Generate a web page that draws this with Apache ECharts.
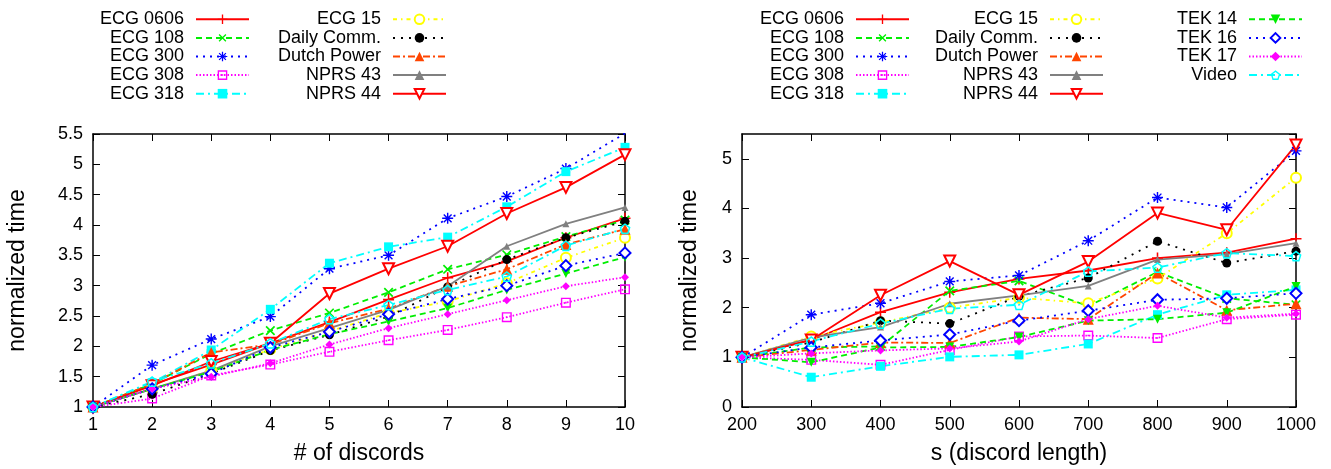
<!DOCTYPE html>
<html>
<head>
<meta charset="utf-8">
<script src="https://cdn.jsdelivr.net/npm/echarts@6/dist/echarts.min.js"></script>
<style>
html,body{margin:0;padding:0;background:#fff;}
#chart{width:1331px;height:469px;}
</style>
</head>
<body>
<div id="chart"></div>
<script>
// ---------------- DATA ----------------
const numDiscords = [1, 2, 3, 4, 5, 6, 7, 8, 9, 10];
const discordLength = [200, 300, 400, 500, 600, 700, 800, 900, 1000];

const seriesNames = ['ECG 0606', 'ECG 108', 'ECG 300', 'ECG 308', 'ECG 318',
  'ECG 15', 'Daily Comm.', 'Dutch Power', 'NPRS 43', 'NPRS 44',
  'TEK 14', 'TEK 16', 'TEK 17', 'Video'];

// left chart: normalized time vs # of discords
const leftECG0606   = [1, 1.37, 1.70, 2.05, 2.40, 2.77, 3.13, 3.40, 3.79, 4.11];
const leftECG108    = [1, 1.38, 1.88, 2.26, 2.55, 2.89, 3.27, 3.51, 3.81, 4.08];
const leftECG300    = [1, 1.69, 2.12, 2.49, 3.28, 3.50, 4.11, 4.47, 4.93, 5.51];
const leftECG308    = [1, 1.14, 1.52, 1.70, 1.91, 2.10, 2.27, 2.48, 2.72, 2.94];
const leftECG318    = [1, 1.40, 1.94, 2.61, 3.37, 3.64, 3.80, 4.30, 4.88, 5.28];
const leftECG15     = [1, 1.30, 1.60, 1.95, 2.25, 2.55, 2.74, 3.04, 3.46, 3.79];
const leftDaily     = [1, 1.21, 1.55, 1.93, 2.19, 2.49, 2.98, 3.43, 3.79, 4.06];
const leftDutch     = [1, 1.38, 1.90, 2.03, 2.38, 2.62, 2.99, 3.27, 3.68, 3.93];
const leftNPRS43    = [1, 1.30, 1.60, 2.00, 2.30, 2.60, 2.99, 3.65, 4.02, 4.29];
const leftNPRS44    = [1, 1.35, 1.75, 2.05, 2.87, 3.28, 3.65, 4.19, 4.62, 5.16];
const leftTEK14     = [1, 1.30, 1.58, 1.94, 2.20, 2.41, 2.63, 2.93, 3.20, 3.47];
const leftTEK16     = [1, 1.30, 1.55, 1.98, 2.24, 2.53, 2.78, 3.00, 3.33, 3.54];
const leftTEK17     = [1, 1.30, 1.50, 1.72, 2.03, 2.30, 2.53, 2.76, 2.99, 3.14];
const leftVideo     = [1, 1.42, 1.72, 2.05, 2.45, 2.68, 2.93, 3.15, 3.66, 3.94];

// right chart: normalized time vs discord length
const rightECG0606  = [1, 1.35, 1.91, 2.31, 2.58, 2.75, 3.00, 3.11, 3.39];
const rightECG108   = [1, 1.20, 1.22, 2.34, 2.54, 2.03, 2.72, 2.19, 2.06];
const rightECG300   = [1, 1.86, 2.09, 2.53, 2.65, 3.35, 4.22, 4.02, 5.16];
const rightECG308   = [1, 0.95, 0.85, 1.15, 1.42, 1.44, 1.39, 1.77, 1.86];
const rightECG318   = [1, 0.60, 0.82, 1.01, 1.05, 1.27, 1.86, 2.26, 2.36];
const rightECG15    = [1, 1.42, 1.70, 2.00, 2.20, 2.09, 2.59, 3.50, 4.62];
const rightDaily    = [1, 1.30, 1.74, 1.68, 2.23, 2.60, 3.34, 2.90, 3.14];
const rightDutch    = [1, 1.15, 1.30, 1.29, 1.80, 1.77, 2.70, 1.95, 2.08];
const rightNPRS43   = [1, 1.40, 1.61, 2.08, 2.25, 2.44, 2.97, 3.08, 3.30];
const rightNPRS44   = [1, 1.35, 2.25, 2.94, 2.26, 2.93, 3.91, 3.57, 5.28];
const rightTEK14    = [1, 0.90, 1.20, 1.21, 1.41, 1.74, 1.77, 1.90, 2.43];
const rightTEK16    = [1, 1.20, 1.34, 1.46, 1.74, 1.94, 2.16, 2.19, 2.29];
const rightTEK17    = [1, 1.08, 1.14, 1.18, 1.32, 1.77, 2.04, 1.80, 1.88];
const rightVideo    = [1, 1.32, 1.68, 1.98, 2.06, 2.73, 2.81, 3.10, 3.04];

const leftTicksY = [1, 5.5, 0.5];   // min, max, step
const rightTicksY = [0, 5.5, 1];

// ---------------- STYLE ----------------
const leftSets = [leftECG0606, leftECG108, leftECG300, leftECG308, leftECG318, leftECG15, leftDaily,
  leftDutch, leftNPRS43, leftNPRS44, leftTEK14, leftTEK16, leftTEK17, leftVideo];
const rightSets = [rightECG0606, rightECG108, rightECG300, rightECG308, rightECG318, rightECG15, rightDaily,
  rightDutch, rightNPRS43, rightNPRS44, rightTEK14, rightTEK16, rightTEK17, rightVideo];

const PLUS = 'path://M-5,-0.7H5V0.7H-5Z M-0.7,-5H0.7V5H-0.7Z';
const STAR = 'path://M-5,-0.65H5V0.65H-5Z M-0.65,-5H0.65V5H-0.65Z ' +
  'M-4,-3.1L-3.1,-4L4,3.1L3.1,4Z M3.1,-4L4,-3.1L-3.1,4L-4,3.1Z';
const DOTSQ = 'path://M-5,-5H5V5H-5Z M-3.6,-3.6V3.6H3.6V-3.6Z M-0.8,-0.8H0.8V0.8H-0.8Z';
const PENTA = 'path://M0,-5L4.755,-1.545L2.939,4.045L-2.939,4.045L-4.755,-1.545Z ' +
  'M0,-3.4L-3.234,-1.05L-1.998,2.75L1.998,2.75L3.234,-1.05Z';

const styles = {
  'ECG 0606':    {color: '#ff0000', dash: 'solid', symbol: PLUS, size: 11},
  'ECG 108':     {color: '#00ee00', dash: [6, 4], symbol: PLUS, size: 12, rotate: 45},
  'ECG 300':     {color: '#0000ff', dash: [2, 5], symbol: STAR, size: 11},
  'ECG 308':     {color: '#ff00ff', dash: [1.5, 2], symbol: DOTSQ, size: 10},
  'ECG 318':     {color: '#00ffff', dash: [8, 4, 2, 4], symbol: 'rect', size: 9},
  'ECG 15':      {color: '#ffff00', dash: [4, 4, 1.5, 4], symbol: 'emptyCircle', size: 10, empty: true},
  'Daily Comm.': {color: '#000000', dash: [2, 6], symbol: 'circle', size: 9},
  'Dutch Power': {color: '#ff4500', dash: [7, 3, 2, 3], symbol: 'triangle', size: 11},
  'NPRS 43':     {color: '#808080', dash: 'solid', symbol: 'triangle', size: 7},
  'NPRS 44':     {color: '#ff0000', dash: 'solid', symbol: 'emptyTriangle', size: 11, rotate: 180, empty: true},
  'TEK 14':      {color: '#00ee00', dash: [6, 4], symbol: 'triangle', size: 9, rotate: 180},
  'TEK 16':      {color: '#0000ff', dash: [2, 5], symbol: 'emptyDiamond', size: 11, empty: true},
  'TEK 17':      {color: '#ff00ff', dash: [1.5, 2], symbol: 'diamond', size: 8},
  'Video':       {color: '#00ffff', dash: [8, 4, 2, 4], symbol: PENTA, size: 11}
};

function makeSeries(name, xs, ys, xi, yi) {
  const s = styles[name];
  return {
    type: 'line', name: name, xAxisIndex: xi, yAxisIndex: yi,
    data: xs.map((x, i) => [x, ys[i]]),
    symbol: s.symbol, symbolSize: s.size, symbolRotate: s.rotate || 0,
    showAllSymbol: true, animation: false, silent: true,
    lineStyle: {color: s.color, width: 1.8, type: s.dash},
    itemStyle: {color: s.color, borderColor: s.color, borderWidth: s.empty ? 1.6 : 0},
    emphasis: {disabled: true}
  };
}

const series = [];
seriesNames.forEach((n, i) => series.push(makeSeries(n, numDiscords, leftSets[i], 0, 0)));
seriesNames.forEach((n, i) => series.push(makeSeries(n, discordLength, rightSets[i], 2, 2)));

const FONT = 'Liberation Sans, Arial, Helvetica, sans-serif';
const AXC = '#000';
const plain = v => String(v);

function legendCol(names, right) {
  return {
    data: names, orient: 'vertical', align: 'right', right: right, top: 10,
    padding: 0, itemGap: 0, itemWidth: 53, itemHeight: 12,
    selectedMode: false,
    textStyle: {fontSize: 18, color: '#000', fontFamily: FONT, lineHeight: 18.6, padding: [0, 7, 0, 0]}
  };
}

function mainX(grid, min, max, step, name, gap) {
  return {
    type: 'value', gridIndex: grid, min: min, max: max, interval: step, position: 'bottom',
    name: name, nameLocation: 'middle', nameGap: gap,
    nameTextStyle: {fontSize: 23, color: '#000', fontFamily: FONT},
    axisLine: {show: true, onZero: false, lineStyle: {color: AXC, width: 1.5}},
    axisTick: {show: true, inside: true, length: 7, lineStyle: {color: AXC, width: 1}},
    axisLabel: {fontSize: 18, color: '#000', fontFamily: FONT, margin: 9, formatter: plain},
    splitLine: {show: false}
  };
}
function mirrorX(grid, min, max, step) {
  return {
    type: 'value', gridIndex: grid, min: min, max: max, interval: step, position: 'top',
    axisLine: {show: true, onZero: false, lineStyle: {color: AXC, width: 1.5}},
    axisTick: {show: true, inside: true, length: 7, lineStyle: {color: AXC, width: 1}},
    axisLabel: {show: false}, splitLine: {show: false}
  };
}
function mainY(grid, t, name, gap) {
  return {
    type: 'value', gridIndex: grid, min: t[0], max: t[1], interval: t[2], position: 'left',
    name: name, nameLocation: 'middle', nameGap: gap,
    nameTextStyle: {fontSize: 23, color: '#000', fontFamily: FONT},
    axisLine: {show: true, onZero: false, lineStyle: {color: AXC, width: 1.5}},
    axisTick: {show: true, inside: true, length: 7, lineStyle: {color: AXC, width: 1}},
    axisLabel: {fontSize: 18, color: '#000', fontFamily: FONT, margin: 10, formatter: plain,
      showMaxLabel: (t[1] - t[0]) % t[2] === 0},
    splitLine: {show: false}
  };
}
function mirrorY(grid, t) {
  return {
    type: 'value', gridIndex: grid, min: t[0], max: t[1], interval: t[2], position: 'right',
    axisLine: {show: true, onZero: false, lineStyle: {color: AXC, width: 1.5}},
    axisTick: {show: true, inside: true, length: 7, lineStyle: {color: AXC, width: 1}},
    axisLabel: {show: false}, splitLine: {show: false}
  };
}

const option = {
  animation: false,
  backgroundColor: '#fff',
  textStyle: {fontFamily: FONT},
  legend: [
    legendCol(seriesNames.slice(0, 5), 1081),
    legendCol(seriesNames.slice(5, 10), 884),
    legendCol(seriesNames.slice(0, 5), 421),
    legendCol(seriesNames.slice(5, 10), 227),
    legendCol(seriesNames.slice(10, 14), 28)
  ],
  grid: [
    {left: 93, right: 706, top: 134, bottom: 62, outerBoundsMode: 'none', containLabel: false},
    {left: 742, right: 35, top: 134, bottom: 62, outerBoundsMode: 'none', containLabel: false}
  ],
  xAxis: [
    mainX(0, numDiscords[0], numDiscords[numDiscords.length - 1], 1, '# of discords', 35),
    mirrorX(0, numDiscords[0], numDiscords[numDiscords.length - 1], 1),
    mainX(1, discordLength[0], discordLength[discordLength.length - 1], 100, 's (discord length)', 35),
    mirrorX(1, discordLength[0], discordLength[discordLength.length - 1], 100)
  ],
  yAxis: [
    mainY(0, leftTicksY, 'normalized time', 64),
    mirrorY(0, leftTicksY),
    mainY(1, rightTicksY, 'normalized time', 41),
    mirrorY(1, rightTicksY)
  ],
  series: series
};

const chart = echarts.init(document.getElementById('chart'), null, {renderer: 'canvas'});
chart.setOption(option);
</script>
</body>
</html>
